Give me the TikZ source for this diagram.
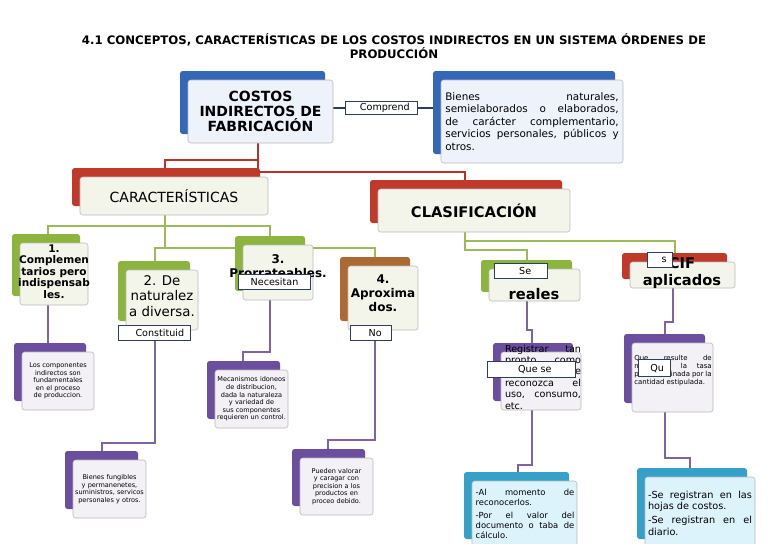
\documentclass[tikz,border=0pt]{standalone}
\usepackage{fontspec}
\setmainfont{DejaVu Sans}
\hyphenpenalty=10000 \exhyphenpenalty=10000 \emergencystretch=20pt
\newcommand\fs[2]{\fontsize{#1}{#2}\selectfont}
\definecolor{cblue}{HTML}{3567B8}
\definecolor{cgreen}{HTML}{8DB43E}
\definecolor{cred}{HTML}{C0392B}
\definecolor{cpurp}{HTML}{6B4E9E}
\definecolor{ccyan}{HTML}{35A1C8}
\definecolor{fblue}{HTML}{EEF2FA}
\definecolor{fgreen}{HTML}{F3F5EA}
\definecolor{fpurp}{HTML}{F3F0F6}
\definecolor{fcyan}{HTML}{DDF3FC}
\definecolor{lred}{HTML}{B83228}
\definecolor{lgreen}{HTML}{9BBB59}
\definecolor{lpurp}{HTML}{8064A2}
\definecolor{labc}{HTML}{2C3E5A}
\newcommand\mybox[9]{%
  \fill[#2,rounded corners=2pt] (#4-8,#5-9) rectangle (#6-8,#7-9);
  \node[draw=gray!55,fill=#3,rounded corners=2pt,inner sep=1pt,
    minimum width={(#6-#4)*0.75pt},minimum height={(#7-#5)*0.75pt},#8]
    (#1) at ({(#4+#6)/2},{(#5+#7)/2}) {#9};}
\tikzset{lab/.style={draw=labc,thick,fill=white,inner sep=0pt,anchor=north west,font=\fs{7.2}{8}},
 rl/.style={lred,line width=1.2pt},gl/.style={lgreen,line width=1.2pt},pl/.style={lpurp,line width=1.2pt}}
\begin{document}
\begin{tikzpicture}[x=0.75pt,y=-0.75pt]
\useasboundingbox (0,0) rectangle (768,543);
\node[font=\fs{8.8}{10}\bfseries,align=center] (title) at (394,46) {4.1 CONCEPTOS, CARACTERÍSTICAS DE LOS COSTOS INDIRECTOS EN UN SISTEMA ÓRDENES DE\\PRODUCCIÓN};
% connectors
\coordinate (r1) at (258,160);
\draw[rl] (258,143) -- (r1) -| (165,170);
\draw[rl] (r1) -- (258,172) -| (465,181);
\draw[gl] (165,215) -- (165,248);
\draw[gl] (165,226) -| (48,236);
\draw[gl] (165,226) -| (270,238);
\draw[gl] (165,248) -| (155,262);
\draw[gl] (165,248) -| (375,258);
\draw[gl] (465,232) -- (465,250) -| (527,261);
\draw[gl] (465,241) -| (675,253);
\draw[pl] (48,305) -- (48,344);
\draw[pl] (155,338) -- (155,443) -| (102,453);
\draw[pl] (270,300) -- (270,352) -| (243,363);
\draw[pl] (375,338) -- (375,440) -| (328,449);
\draw[pl] (527,301) -- (527,330) -| (532,344);
\draw[pl] (532,410) -- (532,465) -| (518,474);
\draw[pl] (673,288) -- (673,322) -| (665,334);
\draw[pl] (665,412) -- (665,458) -| (690,469);
\draw[labc,thick] (333,108) -- (441,108);
% top
\mybox{costos}{cblue}{fblue}{188}{80}{333}{143}{font=\fs{10.5}{11}\bfseries,align=center}{COSTOS\\INDIRECTOS DE\\FABRICACIÓN}
\mybox{bienes}{cblue}{fblue}{441}{80}{623}{163}{font=\fs{7.8}{9.3},align=justify,text width=130pt}{Bienes naturales, semielaborados o elaborados, de carácter complementario, servicios personales, públicos y otros.}
\node[lab,minimum width=54pt,minimum height=10pt] (comp) at (345,101) {\hspace{5pt}Comprend\hfill};
\mybox{carac}{cred}{fgreen}{80}{177}{268}{215}{font=\fs{10.5}{12}}{CARACTERÍSTICAS}
\mybox{clasif}{cred}{fgreen}{378}{189}{570}{232}{font=\fs{11}{12}\bfseries}{CLASIFICACIÓN}
% characteristics
\mybox{c1}{cgreen}{fgreen}{20}{243}{88}{305}{}{}
\node[font=\fs{7.9}{8.6}\bfseries,align=center,anchor=north] (c1t) at (54,240) {1.\\Complemen\\tarios pero\\indispensab\\les.};
\mybox{c2}{cgreen}{fgreen}{126}{270}{198}{330}{}{}
\node[font=\fs{10}{11.5},align=center] (c2t) at (162,296) {2. De\\naturalez\\a diversa.};
\mybox{c3}{cgreen}{fgreen}{243}{245}{313}{300}{}{}
\node[font=\fs{9}{10.5}\bfseries,align=center,anchor=north] (c3t) at (278,250) {3.\\Prorrateables.};
\mybox{c4}{cred!60!cgreen}{fgreen}{348}{266}{418}{330}{}{}
\node[font=\fs{9}{10.5}\bfseries,align=center,anchor=north] (c4t) at (383,270) {4.\\Aproxima\\dos.};
\node[lab,minimum width=54pt,minimum height=11pt] (nec) at (238,274) {Necesitan};
\node[lab,minimum width=54pt,minimum height=11pt] (cons) at (118,325) {\hspace{8pt}Constituid\hfill};
\node[lab,minimum width=31pt,minimum height=11pt] (no) at (350,325) {\hspace{6pt}No\hfill};
% purple left
\mybox{p1}{cpurp}{fpurp}{22}{352}{94}{410}{font=\fs{4.9}{5.7},align=center,text width=50pt}{Los componentes indirectos son fundamentales en el proceso de produccion.}
\mybox{p2}{cpurp}{fpurp}{73}{460}{146}{518}{font=\fs{4.9}{5.7},align=center,text width=52pt}{Bienes fungibles y permanenetes, suministros, servicos personales y otros.}
\mybox{p3}{cpurp}{fpurp}{215}{370}{288}{428}{font=\fs{4.9}{5.7},align=center,text width=52pt}{Mecanismos idoneos de distribucion, dada la naturaleza y variedad de sus componentes requieren un control.}
\mybox{p4}{cpurp}{fpurp}{300}{458}{373}{515}{font=\fs{4.9}{5.7},align=center,text width=52pt}{Pueden valorar y caragar con precision a los productos en proceo debido.}
% classification
\mybox{real}{cgreen}{fgreen}{489}{269}{580}{301}{}{}
\node[font=\fs{11}{12}\bfseries] (realt) at (534,294) {reales};
\node[lab,minimum width=40pt,minimum height=11pt] (se) at (494,263) {\hspace{6pt}Se\hfill};
\mybox{cif}{cred}{fgreen}{630}{262}{735}{288}{}{}
\node[font=\fs{11}{12.5}\bfseries,align=center] (ciftt) at (682,273) {CIF\\aplicados};
\node[lab,minimum width=19pt,minimum height=11pt] (s) at (647,252) {\hspace{6pt}s\hfill};
\mybox{q1}{cpurp}{fpurp}{501}{352}{581}{410}{}{}
\node[font=\fs{7.2}{8.6},align=justify,text width=57pt,anchor=north] (q1t) at (543,340) {Registrar tan pronto como cuando se reconozca el uso, consumo, etc.};
\node[lab,minimum width=66pt,minimum height=12pt] (qse) at (487,361) {\hspace{5pt}Que se\hfill};
\mybox{q2}{cpurp}{fpurp}{632}{343}{713}{412}{}{}
\node[font=\fs{5.2}{6},align=justify,text width=58pt] (q2t) at (673,371) {Que resulte de multiplicar la tasa predeterminada por la cantidad estipulada.};
\node[lab,minimum width=24pt,minimum height=13pt] (qu) at (638,359) {\hspace{4pt}Qu\hfill};
\mybox{t1}{ccyan}{fcyan}{472}{481}{577}{548}{}{}
\node[font=\fs{6.3}{7.6},align=justify,text width=74pt,anchor=north] (t1t) at (525,484) {-Al momento de reconocerlos.\\[2pt]-Por el valor del documento o taba de cálculo.};
\mybox{t2}{ccyan}{fcyan}{645}{477}{755}{548}{}{}
\node[font=\fs{7.3}{8.6},align=justify,text width=78pt,anchor=north] (t2t) at (700,486) {-Se registran en las hojas de costos.\\[2pt]-Se registran en el diario.};
\end{tikzpicture}
\end{document}
